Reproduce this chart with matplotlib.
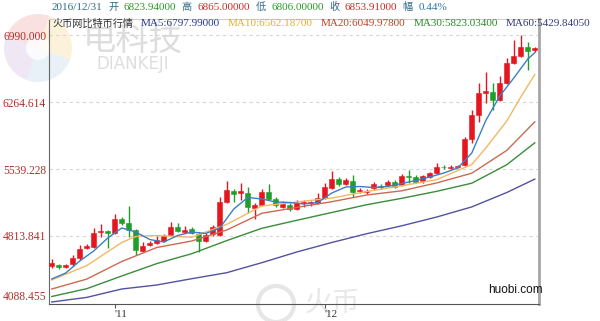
import matplotlib
matplotlib.use("Agg")
import matplotlib.pyplot as plt
from matplotlib.patches import Wedge, Circle
import numpy as np
import pandas as pd

OUTPUT_IMAGE = "out.png"
W, H = 600, 321
SERIF = ["Liberation Serif", "Noto Sans CJK SC"]
CJK = ["Noto Sans CJK SC", "DejaVu Sans"]

# daily BTC/CNY candles on huobi
dates = pd.date_range("2016-10-23", "2016-12-31", freq="D")
opens = [4489.1, 4499.9, 4478.2, 4510.7, 4575.7, 4684.0, 4694.8, 4851.8, 4868.0, 4846.3,
         4997.9, 4954.6, 4878.8, 4651.5, 4716.4, 4738.1, 4759.7, 4824.7, 4911.3, 4857.2,
         4889.6, 4835.5, 4759.7, 4835.5, 4824.7, 5182.0, 5301.1, 5284.8, 5279.4, 5117.0,
         5149.5, 5290.3, 5214.5, 5127.9, 5149.5, 5106.2, 5165.8, 5165.8, 5171.2, 5225.3,
         5333.6, 5431.0, 5376.9, 5409.4, 5295.7, 5290.3, 5333.6, 5355.2, 5366.0, 5398.5,
         5366.0, 5463.5, 5452.7, 5409.4, 5452.7, 5496.0, 5566.3, 5550.1, 5560.9, 5582.6,
         5864.1, 6123.9, 6367.5, 6373.0, 6286.3, 6470.4, 6686.9, 6762.7, 6860.2, 6823.94]
highs = [4564.8, 4510.7, 4510.7, 4608.2, 4716.4, 4727.2, 4900.5, 4943.8, 4878.8, 5052.1,
         5019.6, 5138.7, 4889.6, 4748.9, 4759.7, 4813.9, 4835.5, 4965.4, 4954.6, 4922.1,
         4911.3, 4857.2, 4846.3, 4933.0, 5236.1, 5409.4, 5322.7, 5387.7, 5344.4, 5171.2,
         5322.7, 5376.9, 5236.1, 5192.8, 5171.2, 5203.6, 5203.6, 5192.8, 5279.4, 5387.7,
         5517.6, 5452.7, 5441.8, 5474.3, 5333.6, 5322.7, 5398.5, 5376.9, 5420.2, 5420.2,
         5485.1, 5528.4, 5474.3, 5474.3, 5506.8, 5604.2, 5582.6, 5582.6, 5582.6, 5885.7,
         6178.1, 6470.4, 6589.5, 6470.4, 6546.2, 6741.1, 6935.9, 6990.1, 6914.3, 6865.0]
lows = [4467.4, 4456.6, 4467.4, 4489.1, 4554.0, 4673.1, 4684.0, 4803.0, 4684.0, 4835.5,
        4933.0, 4803.0, 4608.2, 4640.6, 4705.6, 4727.2, 4748.9, 4813.9, 4857.2, 4846.3,
        4835.5, 4640.6, 4748.9, 4813.9, 4813.9, 5171.2, 5182.0, 5203.6, 5062.9, 4997.9,
        5138.7, 5203.6, 5127.9, 5117.0, 5084.5, 5095.4, 5127.9, 5138.7, 5160.3, 5214.5,
        5322.7, 5355.2, 5366.0, 5236.1, 5279.4, 5268.6, 5311.9, 5322.7, 5355.2, 5333.6,
        5355.2, 5387.7, 5387.7, 5387.7, 5441.8, 5485.1, 5539.3, 5539.3, 5550.1, 5571.8,
        5820.8, 6048.1, 6253.9, 6178.1, 6275.5, 6459.5, 6676.1, 6751.9, 6611.2, 6806.0]
closes = [4521.5, 4478.2, 4499.9, 4575.7, 4673.1, 4705.6, 4846.3, 4868.0, 4846.3, 4997.9,
          4954.6, 4878.8, 4662.3, 4705.6, 4732.7, 4770.6, 4813.9, 4911.3, 4868.0, 4878.8,
          4846.3, 4759.7, 4824.7, 4911.3, 5182.0, 5311.9, 5268.6, 5295.7, 5127.9, 5149.5,
          5290.3, 5214.5, 5149.5, 5160.3, 5106.2, 5171.2, 5176.6, 5176.6, 5225.3, 5344.4,
          5431.0, 5376.9, 5420.2, 5290.3, 5311.9, 5301.1, 5376.9, 5339.0, 5398.5, 5344.4,
          5463.5, 5452.7, 5398.5, 5463.5, 5496.0, 5560.9, 5555.5, 5566.3, 5571.8, 5864.1,
          6123.9, 6362.1, 6378.4, 6286.3, 6470.4, 6686.9, 6762.7, 6860.2, 6817.0, 6853.91]

# moving average lines, sampled at these candle positions
ma5_idx = [0, 2, 4, 6, 8, 10, 12, 14, 16, 18, 20, 22, 24, 26, 28, 30, 32, 34, 36, 38,
           40, 42, 44, 46, 48, 50, 52, 54, 56, 58, 60, 62, 64, 66, 68, 69]
ma5 = [4348.3, 4413.3, 4543.2, 4651.5, 4792.2, 4900.5, 4857.2, 4776.0, 4748.9, 4819.3,
       4857.2, 4841.0, 4900.5, 5106.2, 5230.7, 5214.5, 5182.0, 5176.6, 5160.3, 5176.6,
       5279.4, 5344.4, 5349.8, 5339.0, 5349.8, 5382.3, 5414.8, 5452.7, 5496.0, 5550.1,
       5712.5, 6064.4, 6329.6, 6524.5, 6730.2, 6797.99]
ma10_idx = [0, 5, 10, 12, 15, 20, 25, 30, 35, 40, 45, 50, 55, 60, 62, 65, 67, 69]
ma10 = [4337.5, 4493.4, 4743.5, 4808.4, 4819.3, 4800.0, 4940.0, 5138.7, 5182.0, 5225.3,
        5295.7, 5357.4, 5424.5, 5588.0, 5766.6, 6059.0, 6318.8, 6562.187]
ma_idx = [0, 5, 10, 15, 20, 25, 30, 35, 40, 45, 50, 55, 60, 65, 69]
ma20 = [4240.0, 4347.2, 4537.8, 4689.4, 4759.7, 4878.8, 5059.6, 5123.5, 5185.2, 5257.8,
        5303.2, 5388.8, 5493.8, 5740.7, 6049.978]
ma30 = [4158.8, 4243.3, 4380.8, 4515.0, 4622.2, 4764.1, 4897.2, 4983.8, 5068.3, 5152.7,
        5222.0, 5297.8, 5385.5, 5585.8, 5823.034]
ma60 = [4099.3, 4149.1, 4240.0, 4283.3, 4351.5, 4416.5, 4524.8, 4640.6, 4743.5, 4838.8,
        4924.3, 5019.6, 5128.9, 5284.8, 5429.8405]

y_ticks = [4088.455, 4813.841, 5539.228, 6264.614, 6990.000]

RED = "#e5161f"
GREEN = "#1f9e2c"


def put_row(fig, x0, y, parts, gap):
    # lay coloured text pieces one after another, in pixel units
    renderer = fig.canvas.get_renderer()
    x = x0
    for txt, color, size in parts:
        t = fig.text(x / W, 1 - y / H, txt, color=color, fontsize=size,
                     family=SERIF, ha="left", va="center", zorder=5)
        x += t.get_window_extent(renderer).width + gap


def draw_watermarks(fig):
    bg = fig.add_axes([0, 0, 1, 1], zorder=0)
    bg.set_xlim(0, W)
    bg.set_ylim(H, 0)
    bg.axis("off")
    petals = [("#f2b9b9", 200, 290), ("#f6e2a6", 290, 380),
              ("#d9c6e6", 110, 200), ("#c9dcf0", 20, 110)]
    for color, t1, t2 in petals:
        bg.add_patch(Wedge((38, 48), 34, t1, t2, color=color, alpha=0.42, lw=0))
    bg.add_patch(Circle((38, 48), 12, color="white", alpha=0.8, lw=0))
    bg.text(133, 40, "电科技", fontsize=24, color="#cfcfcf", family=CJK,
            ha="center", va="center", alpha=0.7)
    bg.text(133, 64, "DIANKEJI", fontsize=12, color="#cfcfcf", family="DejaVu Sans",
            ha="center", va="center", alpha=0.7)
    bg.add_patch(Circle((276, 304), 18, fill=False, ec="#e6e6e6", lw=3))
    bg.text(332, 303, "火币", fontsize=20, color="#e8e8e8", family=CJK,
            ha="center", va="center")


def generate_plot():
    fig = plt.figure(figsize=(W / 100, H / 100), dpi=100)
    draw_watermarks(fig)

    ax = fig.add_axes([49 / W, 1 - 304 / H, 490 / W, 285 / H], zorder=2)
    ax.patch.set_alpha(0)

    o = np.array(opens)
    c = np.array(closes)
    x = np.arange(len(dates))
    colors = np.where(c >= o, RED, GREEN)

    ax.vlines(x, lows, highs, colors=colors, lw=1.0, zorder=3)
    body_lo = np.minimum(o, c)
    body_h = np.maximum(np.abs(c - o), 9)
    ax.bar(x, body_h, bottom=body_lo, width=0.66, color=colors,
           edgecolor=colors, lw=0.4, zorder=4)

    ax.plot(ma_idx, ma60, color="#5252a3", lw=1.0, zorder=5)
    ax.plot(ma_idx, ma30, color="#3a8d3a", lw=1.0, zorder=5)
    ax.plot(ma_idx, ma20, color="#cc6a50", lw=1.0, zorder=5)
    ax.plot(ma10_idx, ma10, color="#f3b862", lw=1.0, zorder=5)
    ax.plot(ma5_idx, ma5, color="#3a80c3", lw=1.0, zorder=5)

    ax.set_xlim(-0.39, 69.6)
    ax.set_ylim(4077.6, 7163.3)

    # grid + price labels
    for v in y_ticks[1:]:
        ax.axhline(v, color="#d6d6d6", lw=0.8, ls=(0, (3, 3)), zorder=1)
    ax.set_yticks(y_ticks)
    ax.set_yticklabels([f"{v:.3f}" for v in y_ticks], family=SERIF,
                       fontsize=8.3, color="#b0302a")
    ax.get_yticklabels()[0].set_va("bottom")
    ax.tick_params(axis="y", length=0, pad=2)

    month_pos = [i for i, d in enumerate(dates) if d.day == 1]
    ax.set_xticks(month_pos)
    ax.set_xticklabels([f"'{dates[i].month}" for i in month_pos], family=SERIF,
                       fontsize=8, color="#333333", ha="left")
    ax.tick_params(axis="x", length=3, width=0.8, color="#555555", pad=1)

    ax.spines["left"].set_color("#666666")
    ax.spines["bottom"].set_color("#555555")
    ax.spines["top"].set_color("#cfcfcf")
    ax.spines["right"].set_color("#a6a6a6")
    ax.spines["right"].set_linewidth(2.0)

    # header rows
    last_o, last_h, last_l, last_c = opens[-1], highs[-1], lows[-1], closes[-1]
    pct = (last_c - last_o) / last_o * 100
    lab = "#2e6a86"
    put_row(fig, 52, 7, [
        (dates[-1].strftime("%Y/%m/%d"), lab, 8), ("开", lab, 7.3),
        (f"{last_o:.5f}", "#2a9a2a", 8), ("高", lab, 7.3),
        (f"{last_h:.5f}", "#d02828", 8), ("低", lab, 7.3),
        (f"{last_l:.5f}", "#2a9a2a", 8), ("收", lab, 7.3),
        (f"{last_c:.5f}", "#d02828", 8), ("幅", lab, 7.3),
        (f"{pct:.2f}%", "#2e7a9a", 8),
    ], gap=5.5)
    put_row(fig, 52, 24, [
        ("火币网比特币行情", "#333333", 7.3),
        (f"MA5:{ma5[-1]:.5f}", "#283c8c", 8),
        (f"MA10:{ma10[-1]:.5f}", "#e2b02e", 8),
        (f"MA20:{ma20[-1]:.5f}", "#bb4428", 8),
        (f"MA30:{ma30[-1]:.5f}", "#2a8a2a", 8),
        (f"MA60:{ma60[-1]:.5f}", "#343a7c", 8),
    ], gap=8)

    fig.text(515 / W, 1 - 290 / H, "huobi.com", fontsize=8.5, color="#111111",
             family="Liberation Sans", ha="center", va="center")

    fig.savefig(OUTPUT_IMAGE, dpi=100, facecolor="white")


if __name__ == "__main__":
    generate_plot()
